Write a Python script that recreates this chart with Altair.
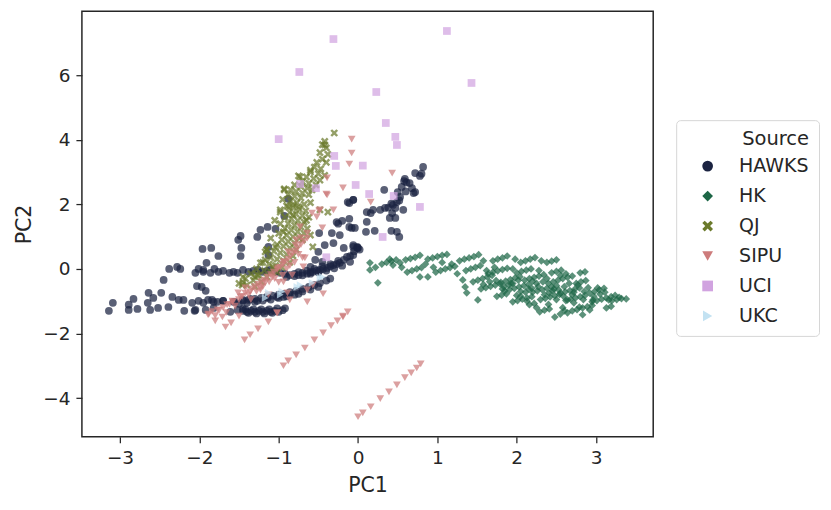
import altair as alt
import pandas as pd

SOURCES = ["HAWKS", "HK", "QJ", "SIPU", "UCI", "UKC"]
COLORS = ["#1b2341", "#1d6646", "#6b7a2c", "#cd7b7b", "#d1a3e0", "#c3e2f2"]
X_PATH = "M-1,-0.55L-0.55,-1L0,-0.45L0.55,-1L1,-0.55L0.45,0L1,0.55L0.55,1L0,0.45L-0.55,1L-1,0.55L-0.45,0Z"
SHAPES = ["circle", "diamond", X_PATH, "triangle-down", "square", "triangle-right"]

X_TICKS = [-3, -2, -1, 0, 1, 2, 3]
Y_TICKS = [-4, -2, 0, 2, 4, 6]

HAWKS = [
    (-3.14, -1.30), (-3.09, -1.05), (-2.89, -1.11), (-2.89, -1.27), (-2.78, -1.24), (-2.83, -0.93),
    (-2.64, -0.74), (-2.65, -1.05), (-2.58, -0.90), (-2.62, -1.27), (-2.52, -1.21), (-2.48, -0.74),
    (-2.45, -0.34), (-2.39, -1.18), (-2.38, 0.00), (-2.34, -0.87), (-2.28, 0.06), (-2.24, 0.00),
    (-2.26, -0.96), (-2.20, -0.96), (-2.19, -1.30), (-2.06, -1.30), (-2.09, -1.05), (-2.05, -0.12),
    (-2.01, 0.00), (-2.03, -0.53), (-1.97, -0.56), (-1.92, -0.68), (-1.96, 0.62), (-1.85, 0.65),
    (-1.76, 0.40), (-1.91, 0.19), (-1.95, -0.09), (-1.86, -0.12), (-1.81, 0.00), (-1.76, -0.09),
    (-2.01, -0.99), (-1.95, -1.05), (-1.84, -0.96), (-1.77, -1.02), (-1.70, -0.99), (-2.05, -1.27),
    (-1.92, -1.27), (-1.82, -1.21), (-1.62, -0.12), (-1.57, -0.09),
    # band near zero
    (-1.95, -0.03), (-1.70, -0.06), (-1.52, -0.12), (-1.45, -0.03), (-1.38, -0.09), (-1.32, -0.06),
    (-1.26, -0.03), (-1.21, -0.09), (-1.15, -0.06), (-1.11, -0.03), (-1.04, -0.09), (-0.98, -0.12),
    (-0.92, -0.15), (-0.86, -0.19), (-0.80, -0.15), (-0.75, -0.19), (-0.70, -0.12), (-0.64, -0.15),
    (-0.60, -0.10), (-0.57, -0.09), (-0.52, -0.05), (-0.48, -0.03), (-0.44, 0.00), (-0.39, 0.03),
    (-0.35, 0.08), (-0.31, 0.12), (-0.27, 0.15), (-0.23, 0.19), (-0.18, 0.28), (-0.14, 0.37),
    (-0.10, 0.40), (-0.06, 0.43), (-0.01, 0.68), (-0.05, 0.55), (0.02, 0.60),
    (-0.90, -0.25), (-0.80, -0.22), (-0.70, -0.20), (-0.60, -0.15), (-0.50, -0.10), (-0.40, -0.05),
    (-0.30, 0.02), (-0.20, 0.10), (-0.10, 0.22), (-0.75, -0.10), (-0.65, -0.05), (-0.55, 0.00),
    (-0.45, 0.08), (-0.35, 0.15), (-0.25, 0.25),
    # middle rising band
    (-1.89, -0.96), (-1.82, -1.02), (-1.70, -0.99), (-1.57, -1.02), (-1.45, -0.96), (-1.36, -0.93),
    (-1.27, -0.99), (-1.14, -0.90), (-1.02, -0.87), (-0.94, -0.87), (-0.86, -0.80), (-0.75, -0.77),
    (-1.55, -1.02), (-1.45, -0.99), (-1.38, -0.96), (-1.30, -0.93), (-1.22, -0.90), (-1.15, -0.87),
    (-1.08, -0.83), (-1.00, -0.80), (-0.93, -0.77), (-0.86, -0.72), (-0.78, -0.68), (-0.70, -0.62),
    (-0.62, -0.56), (-0.55, -0.50), (-0.48, -0.44), (-0.40, -0.36), (-0.35, -0.30),
    (-1.50, -1.08), (-1.40, -1.05), (-1.30, -1.02), (-1.20, -0.98), (-1.10, -0.95), (-1.00, -0.90),
    (-0.90, -0.85), (-0.80, -0.80), (-0.70, -0.70), (-0.60, -0.64), (-0.50, -0.56),
    # bottom dense band
    (-1.61, -1.33), (-1.52, -1.27), (-1.45, -1.24), (-1.45, -1.30), (-1.40, -1.33), (-1.35, -1.30),
    (-1.30, -1.33), (-1.25, -1.30), (-1.20, -1.33), (-1.15, -1.30), (-1.10, -1.33), (-1.05, -1.30),
    (-1.00, -1.33), (-0.95, -1.28), (-0.92, -1.22), (-1.42, -1.25), (-1.32, -1.25), (-1.22, -1.25),
    (-1.12, -1.25), (-1.02, -1.22), (-1.38, -1.36), (-1.28, -1.38), (-1.18, -1.38), (-1.08, -1.36),
    # scattered middle
    (-0.88, 2.17), (-0.93, 1.64), (-1.23, 1.21), (-1.14, 1.30), (-1.04, 1.24), (-1.27, 0.99),
    (-1.48, 1.02), (-1.51, 0.90), (-1.47, 0.65), (-1.48, 0.40), (-1.13, 0.68), (-1.13, 0.43),
    (-0.20, 1.49), (-0.13, 2.07), (-0.06, 2.14), (-0.11, 1.55), (-0.04, 1.27), (-0.11, 1.30),
    (-0.33, 1.11), (-0.23, 1.05), (-0.49, 1.11), (-0.31, 0.80), (-0.42, 0.74), (-0.18, 0.65),
    (-0.06, 0.68), (0.00, 0.65), (-0.54, 0.28), (-0.45, 0.22), (-0.60, 0.06), (-0.50, 0.53),
    (-0.11, 2.04), (-0.25, 1.40), (-0.27, 1.45),
    # right cluster
    (0.82, 3.16), (0.72, 2.97), (0.78, 2.88), (0.59, 2.79), (0.65, 2.66), (0.61, 2.68), (0.55, 2.54),
    (0.72, 2.38), (0.70, 2.35), (0.50, 2.38), (0.33, 2.45), (0.53, 2.23), (0.49, 2.07), (0.44, 1.98),
    (0.57, 1.83), (0.47, 1.89), (0.34, 1.89), (0.28, 1.83), (0.19, 1.83), (0.16, 1.73), (0.11, 1.76),
    (0.43, 1.73), (0.40, 1.58), (0.47, 1.58), (0.11, 1.46), (0.10, 1.15), (0.21, 1.18), (0.42, 1.18),
    (0.49, 1.15), (0.52, 0.99), (-0.06, 2.14), (-0.08, 1.27), (-0.01, 0.65), (-0.06, 0.74),
    (0.80, 2.95), (0.58, 2.72), (0.68, 2.50), (0.60, 2.40), (0.52, 2.12), (0.42, 2.02), (0.38, 1.90),
]

HK = [
    (0.30, 0.15), (0.36, 0.20), (0.42, 0.24), (0.48, 0.28),
    (0.60, 0.28), (0.66, 0.32), (0.72, 0.36), (0.78, 0.42),
    (0.88, 0.30), (0.94, 0.34), (1.00, 0.38), (1.06, 0.42), (1.12, 0.45),
    (1.28, 0.25), (1.34, 0.30), (1.40, 0.34), (1.46, 0.38), (1.52, 0.44),
    (1.70, 0.25), (1.76, 0.30), (1.82, 0.34), (1.88, 0.40),
    (2.05, 0.20), (2.11, 0.25), (2.17, 0.30), (2.23, 0.35),
    (2.38, 0.20), (2.44, 0.24), (2.50, 0.28),
    (0.15, -0.03), (0.22, 0.05), (0.15, 0.19), (0.25, -0.43), (0.44, 0.12), (0.53, 0.19),
    (0.62, -0.10), (0.68, -0.05), (0.74, 0.00), (0.80, 0.04),
    (0.98, -0.10), (1.04, -0.05), (1.10, 0.00), (1.16, 0.04), (1.22, 0.08),
    (1.36, -0.05), (1.42, 0.00), (1.48, 0.05), (1.54, 0.10),
    (1.64, -0.15), (1.70, -0.10), (1.76, -0.06), (1.82, -0.02), (1.88, 0.02),
    (2.00, -0.12), (2.06, -0.08), (2.12, -0.04), (2.18, 0.00),
    (2.44, -0.12), (2.50, -0.08), (2.56, -0.04),
    (2.80, -0.12), (2.86, -0.09),
    (0.78, -0.25), (0.88, -0.25), (1.32, -0.34), (1.35, -0.56), (1.37, -0.74), (1.51, -0.96),
    (1.45, -0.40), (1.51, -0.35), (1.57, -0.30), (1.63, -0.25), (1.69, -0.20),
    (1.80, -0.42), (1.86, -0.38), (1.92, -0.33), (1.98, -0.28), (2.04, -0.24),
    (2.10, -0.35), (2.16, -0.30), (2.22, -0.26), (2.28, -0.22), (2.34, -0.18),
    (2.40, -0.45), (2.46, -0.40), (2.52, -0.35), (2.58, -0.30), (2.64, -0.26), (2.70, -0.22),
    (2.75, -0.45), (2.81, -0.40), (2.87, -0.36),
    (1.55, -0.62), (1.61, -0.58), (1.67, -0.54), (1.73, -0.50), (1.79, -0.46),
    (1.85, -0.68), (1.91, -0.64), (1.97, -0.60), (2.03, -0.56), (2.09, -0.52), (2.15, -0.48),
    (2.20, -0.72), (2.26, -0.68), (2.32, -0.64), (2.38, -0.60), (2.44, -0.56), (2.50, -0.52),
    (2.55, -0.75), (2.61, -0.71), (2.67, -0.67), (2.73, -0.63), (2.79, -0.59),
    (2.92, -0.75), (2.98, -0.70), (3.04, -0.65), (3.10, -0.60),
    (1.75, -0.85), (1.81, -0.81), (1.87, -0.77),
    (1.95, -1.02), (2.01, -0.98), (2.07, -0.94), (2.13, -0.90), (2.19, -0.86),
    (2.30, -0.95), (2.36, -0.91), (2.42, -0.87), (2.48, -0.83), (2.54, -0.79),
    (2.62, -0.98), (2.68, -0.94), (2.74, -0.90), (2.80, -0.86), (2.86, -0.82),
    (2.95, -1.02), (3.01, -0.98), (3.07, -0.94), (3.13, -0.90), (3.19, -0.86),
    (3.20, -0.98), (3.26, -0.95), (3.32, -0.92), (3.38, -0.93),
    (2.16, -1.11), (2.22, -1.07),
    (2.29, -1.33), (2.35, -1.28), (2.41, -1.24),
    (2.48, -1.49), (2.55, -1.40),
    (2.64, -1.36), (2.70, -1.30), (2.76, -1.26),
    (2.83, -1.21), (2.89, -1.17), (2.95, -1.13),
    (3.13, -1.21), (3.19, -1.16),
    (2.92, -1.27), (2.79, -1.18), (2.58, -1.20),
    (1.95, -0.45), (2.05, -0.70), (2.25, -0.45), (2.35, -0.80), (2.60, -0.55), (2.15, -0.62),
    (1.90, -0.50), (2.45, -0.68), (2.70, -0.80), (2.20, -0.38), (2.00, -0.82), (2.85, -0.70),
    (3.02, -0.59), (2.64, -0.96), (2.83, -1.42), (2.96, -0.96),
    (1.58, -0.48), (1.66, -0.40), (1.74, -0.36), (1.84, -0.55), (1.93, -0.45), (2.02, -0.35),
    (2.11, -0.72), (2.19, -0.60), (2.27, -0.55), (2.33, -0.40), (2.41, -0.75), (2.47, -0.62),
    (2.53, -0.65), (2.59, -0.85), (2.66, -0.45), (2.72, -0.72), (2.77, -0.50), (2.84, -0.95),
    (2.90, -0.58), (2.97, -0.85), (3.05, -0.78), (3.11, -0.72), (3.16, -0.96), (3.24, -0.82),
    (3.29, -0.88), (1.62, -0.05), (1.72, 0.05), (1.95, 0.00), (2.28, -0.05), (2.62, -0.15),
    (1.25, -0.15), (1.18, 0.15), (0.95, 0.05), (0.55, 0.05), (0.40, 0.30), (0.85, 0.15),
    (1.06, 0.20), (1.58, 0.25), (1.98, 0.30), (2.31, 0.25), (2.13, -1.00), (2.25, -1.20),
    (2.40, -1.10), (2.60, -1.30), (2.72, -1.05), (2.50, -0.95), (2.05, -0.85), (1.82, -0.62),
    (2.38, -0.30), (2.55, -0.20),
]

QJ = [
    (-0.30, 4.21), (-0.45, 3.85), (-0.42, 3.95), (-0.40, 3.75), (-0.48, 3.60), (-0.38, 3.55),
    (-0.45, 3.40), (-0.52, 3.30), (-0.40, 3.30), (-0.55, 3.15), (-0.47, 3.10), (-0.60, 3.00),
    (-0.50, 2.95), (-0.42, 2.90), (-0.65, 2.85), (-0.56, 2.80), (-0.48, 2.75), (-0.75, 2.88),
    (-0.70, 2.70), (-0.62, 2.65), (-0.53, 2.60), (-0.80, 2.60), (-0.72, 2.55), (-0.64, 2.50),
    (-0.93, 2.45), (-0.85, 2.45), (-0.58, 2.45), (-0.78, 2.40), (-0.70, 2.35), (-0.62, 2.30),
    (-0.88, 2.30), (-0.80, 2.25), (-0.72, 2.20), (-0.98, 1.76), (-0.95, 2.15), (-0.85, 2.10),
    (-0.77, 2.05), (-0.68, 2.00), (-0.60, 2.05), (-0.90, 1.95), (-0.82, 1.90), (-0.74, 1.85),
    (-0.66, 1.80), (-0.86, 1.75), (-0.78, 1.70), (-0.70, 1.65), (-0.62, 1.60), (-0.92, 1.60),
    (-0.84, 1.55), (-0.76, 1.50), (-0.68, 1.45), (-1.05, 1.50), (-0.98, 1.40), (-0.88, 1.40),
    (-0.80, 1.35), (-0.72, 1.30), (-0.64, 1.25), (-0.92, 1.25), (-0.84, 1.20), (-0.76, 1.15),
    (-0.68, 1.10), (-1.00, 1.10), (-0.90, 1.05), (-0.82, 1.00), (-0.74, 0.95), (-1.10, 0.95),
    (-0.96, 0.90), (-0.88, 0.85), (-0.80, 0.80), (-1.02, 0.75), (-0.94, 0.70), (-0.86, 0.65),
    (-0.78, 0.60), (-1.15, 0.60), (-1.06, 0.55), (-0.98, 0.50), (-0.90, 0.45), (-0.82, 0.40),
    (-1.10, 0.35), (-1.02, 0.30), (-0.94, 0.25), (-0.86, 0.20), (-1.20, 0.20), (-1.12, 0.15),
    (-1.04, 0.10), (-0.96, 0.05), (-1.28, 0.00), (-1.18, -0.05), (-1.10, -0.10), (-1.02, -0.10),
    (-1.35, -0.15), (-1.25, -0.20), (-1.15, -0.25), (-1.42, -0.30), (-1.32, -0.35), (-1.22, -0.40),
    (-1.50, -0.45), (-1.40, -0.50), (-1.30, -0.55), (-1.46, -0.50), (-1.45, -0.25), (-1.27, -0.19),
    (-1.07, 0.06), (-1.23, 0.19), (-1.17, 0.28), (-1.15, 0.59), (-0.94, 1.15), (-0.88, 1.92),
    (-0.82, 1.67), (-0.57, 0.68), (-0.60, 1.05), (-0.48, 1.83), (-0.38, 1.76), (-0.93, 2.48),
    (-1.04, 0.68), (-1.17, 0.53), (-0.98, 1.83), (-0.73, 2.85), (-0.60, 3.06), (-0.42, 3.84),
    (-0.75, 1.92), (-0.82, 1.98), (-1.45, -0.43), (-1.30, -0.25), (-0.70, 0.90), (-0.65, 1.50),
]

SIPU = [
    # lowest line
    (0.00, -4.58), (0.06, -4.46), (0.16, -4.27), (0.28, -4.02), (0.39, -3.81), (0.49, -3.59),
    (0.59, -3.37), (0.67, -3.22), (0.74, -3.07), (0.79, -2.94),
    # middle line
    (-0.94, -3.00), (-0.88, -2.85), (-0.78, -2.66), (-0.67, -2.45), (-0.55, -2.20), (-0.44, -1.98),
    (-0.34, -1.76), (-0.26, -1.61), (-0.19, -1.46), (-0.13, -1.33),
    # short line
    (-1.43, -2.20), (-1.36, -2.04), (-1.26, -1.86), (-1.13, -1.64), (-1.02, -1.36),
    (-1.67, -1.80), (-1.60, -1.67), (-1.80, -1.61), (-1.71, -1.49), (-1.50, -1.46),
    # upper scatter
    (-0.08, 4.02), (-0.08, 3.59), (-0.11, 3.25), (-0.19, 2.51), (-0.39, 2.82), (-0.40, 2.32),
    (-0.31, 1.83), (-0.49, 1.80), (0.16, 2.07), (0.43, 2.97), (-0.39, 2.29), (-0.44, -0.77),
    # dense band
    (-1.88, -1.40), (-1.84, -1.32), (-1.80, -1.45), (-1.75, -1.28), (-1.70, -1.20), (-1.66, -1.35),
    (-1.62, -1.10), (-1.58, -1.00), (-1.55, -1.15), (-1.50, -0.95), (-1.46, -0.85), (-1.42, -0.75),
    (-1.38, -0.80), (-1.34, -0.62), (-1.30, -0.55), (-1.26, -0.48), (-1.22, -0.40), (-1.18, -0.35),
    (-1.14, -0.25), (-1.10, -0.18), (-1.06, -0.10), (-1.02, -0.02), (-0.98, 0.05), (-0.95, 0.15),
    (-0.92, 0.22), (-0.88, 0.30), (-0.85, 0.40), (-0.82, 0.48), (-0.79, 0.55), (-0.76, 0.65),
    (-0.72, 0.75), (-0.68, 0.85), (-0.64, 0.95), (-1.20, -0.55), (-1.05, -0.30), (-0.90, 0.00),
    (-0.80, 0.20), (-0.70, 0.35), (-1.35, -0.95), (-1.00, -0.42), (-0.95, -0.20), (-1.12, -0.40),
    (-1.28, -0.70), (-0.86, 0.10), (-0.75, 0.45),
    (-0.94, -0.40), (-0.83, -0.19), (-0.69, 0.06), (-0.67, 0.34), (-0.72, 0.96), (-0.64, 1.11),
    (-0.58, 1.73), (-0.52, 1.61), (-0.45, 1.27), (-0.48, 1.83), (-1.42, -0.59), (-1.36, -0.71),
    (-1.51, -0.74), (-1.23, -0.65), (-1.17, -0.43), (-1.08, -0.25), (-1.01, 0.03), (-0.94, 0.22),
    (-0.88, 0.53), (-0.79, 0.74), (-0.78, 0.90), (-0.73, 1.30), (-0.86, -0.96), (-0.64, -1.02),
    (-1.02, -1.36), (-0.19, -1.49), (-1.89, -1.42), (-1.77, -1.27), (-1.65, -1.11), (-1.58, -1.02),
    (-1.48, -0.87), (-1.23, -0.59), (-1.13, -0.80), (-0.89, -0.74), (-0.64, -0.65), (-0.57, -0.50),
]

UCI = [
    (-0.31, 7.12), (-0.74, 6.10), (0.23, 5.48), (-1.00, 4.02), (-0.30, 3.50), (-0.28, 3.19),
    (0.06, 3.20), (-0.03, 2.60), (0.14, 2.32), (-0.73, 2.63), (-0.53, 2.50), (1.12, 7.37),
    (1.43, 5.76), (0.35, 4.52), (0.47, 4.09), (0.49, 3.84), (0.78, 1.92), (0.45, 2.26),
    (0.31, 0.99), (-0.40, 0.36),
]

UKC = [
    (-0.73, -0.50), (-0.48, -0.28), (-0.58, -0.43), (-0.98, -0.80), (-1.17, -0.90),
    (-0.45, -0.25), (-1.13, -0.74), (-0.96, -0.70), (-0.77, -0.56),
]

rows = []
for name, pts in zip(SOURCES, [HAWKS, HK, QJ, SIPU, UCI, UKC]):
    for px, py in pts:
        rows.append({"PC1": px, "PC2": py, "Source": name})
df = pd.DataFrame(rows)

FONT = "DejaVu Sans"
INK = "#262626"

legend = alt.Legend(
    title="Source",
    orient="none",
    legendX=595,
    legendY=109,
    titleAnchor="end",
    titleFontSize=19.5,
    titleFontWeight="normal",
    titleFont=FONT,
    titleColor=INK,
    titlePadding=7,
    labelFontSize=19,
    labelFont=FONT,
    labelColor=INK,
    labelOffset=22,
    symbolSize=115,
    symbolOpacity=1,
    symbolStrokeWidth=0,
    symbolOffset=12,
    rowPadding=10,
    padding=10,
    strokeColor="#d6d6d6",
    fillColor="white",
    cornerRadius=4,
)

chart = (
    alt.Chart(df)
    .mark_point(filled=True, opacity=0.72, size=60, strokeWidth=0)
    .encode(
        x=alt.X(
            "PC1:Q",
            scale=alt.Scale(domain=[-3.48, 3.72], nice=False, zero=False),
            axis=alt.Axis(values=X_TICKS, grid=False, title="PC1", format="d"),
        ),
        y=alt.Y(
            "PC2:Q",
            scale=alt.Scale(domain=[-5.2, 7.98], nice=False, zero=False),
            axis=alt.Axis(values=Y_TICKS, grid=False, title="PC2", format="d"),
        ),
        color=alt.Color("Source:N", scale=alt.Scale(domain=SOURCES, range=COLORS), legend=legend),
        shape=alt.Shape("Source:N", scale=alt.Scale(domain=SOURCES, range=SHAPES), legend=legend),
    )
    .properties(
        width=572,
        height=426,
        autosize=alt.AutoSizeParams(type="none"),
        padding={"left": 74, "top": 3, "right": 170, "bottom": 60},
    )
    .configure_view(stroke=INK, strokeWidth=1.5)
    .configure_axis(
        domain=False,
        tickColor=INK,
        tickWidth=1.25,
        tickSize=6,
        labelFont=FONT,
        labelFontSize=18.5,
        labelColor=INK,
        labelPadding=6,
        titleFont=FONT,
        titleFontSize=20.5,
        titleFontWeight="normal",
        titleColor=INK,
        titlePadding=8,
    )
)

chart.save("out.html", embed_options={"renderer": "svg", "actions": False})
